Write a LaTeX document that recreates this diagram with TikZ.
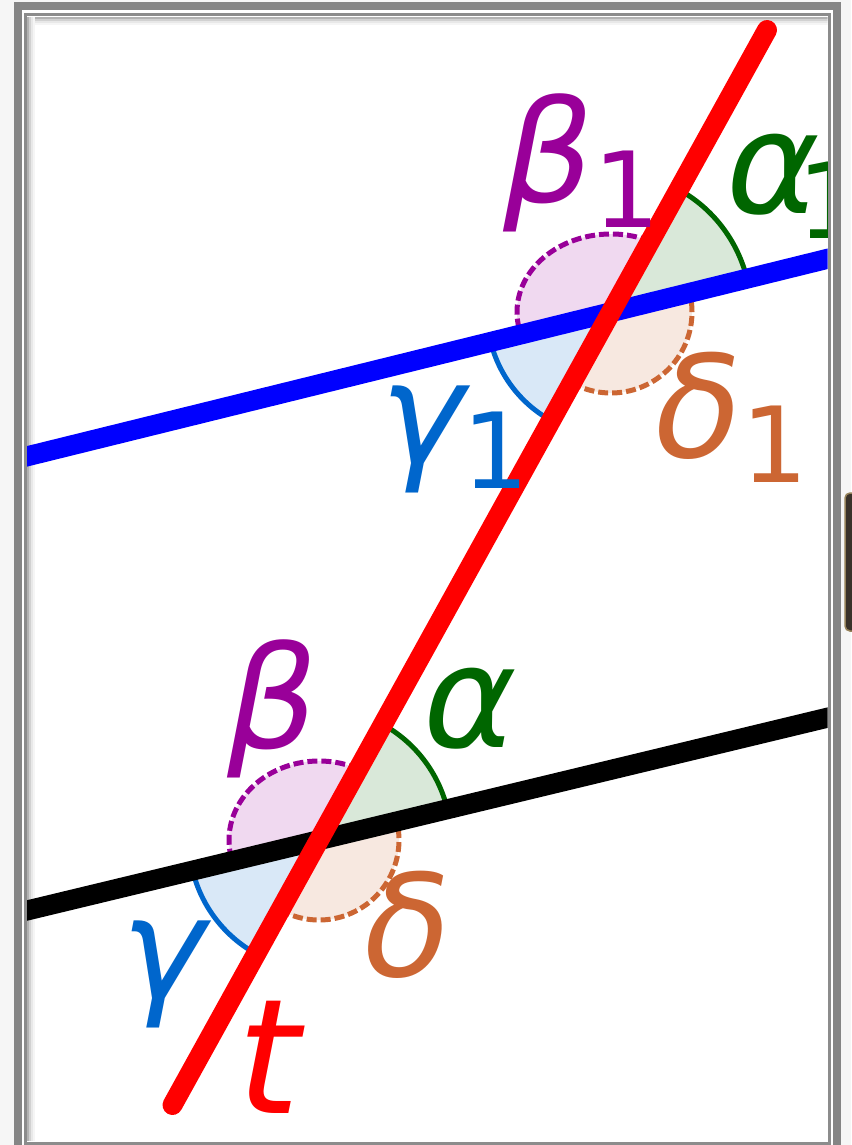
\documentclass[tikz,border=0pt]{standalone}
\usepackage{fontspec}
\setmainfont{DejaVu Sans}
\usetikzlibrary{calc}
\definecolor{cpurple}{HTML}{990099}
\definecolor{cgreen}{HTML}{006600}
\definecolor{cblue}{HTML}{0066CC}
\definecolor{corange}{HTML}{CC6633}
\definecolor{cred}{HTML}{FF0000}
\definecolor{cbline}{HTML}{0000FF}
\definecolor{framegray}{HTML}{858585}
\definecolor{pagebg}{HTML}{F6F6F6}
\newcommand\lblsub[1]{{\fontsize{105}{105}\selectfont\raisebox{-25pt}{#1}}}
\begin{document}
\begin{tikzpicture}[x=1pt,y=-1pt,
  lbl/.style={inner sep=0pt, outer sep=0pt, anchor=base west, font=\fontsize{142}{142}\selectfont},
  mainline/.style={line width=20pt},
  solidarc/.style={line width=5pt},
  dasharc/.style={line width=5pt, dash pattern=on 10pt off 4pt},
  afill/.style={fill=cgreen!15}, bfill/.style={fill=cpurple!15},
  gfill/.style={fill=cblue!15}, dfill/.style={fill=corange!15}]
% page and frame
\fill[pagebg] (0,0) rectangle (851,1145);
\useasboundingbox (0,0) rectangle (851,1145);
\filldraw[fill=white, draw=framegray, line width=8pt] (18,6.5) rectangle (836.5,1165);
\draw[draw=black!45, line width=3pt] (25.5,15) rectangle (829,1143.5);
\node[draw={rgb,255:red,150;green,130;blue,90}, fill={rgb,255:red,58;green,50;blue,42}, line width=1.5pt, rounded corners=5pt,
  minimum width=16pt, minimum height=138pt, inner sep=0pt] (handle) at (853,562) {};
\begin{scope}
\clip (27,17) rectangle (827.5,1141.5);
% inner shadow
\draw[black!30, line width=2pt] (27,18) -- (828,18);
\draw[black!18, line width=2pt] (27,20) -- (828,20);
\draw[black!9, line width=2pt] (27,22) -- (828,22);
\draw[black!4, line width=2pt] (27,24) -- (828,24);
\draw[black!30, line width=2pt] (28,17) -- (28,1141);
\draw[black!18, line width=2pt] (30,17) -- (30,1141);
\draw[black!9, line width=2pt] (32,17) -- (32,1141);
\draw[black!4, line width=2pt] (34,17) -- (34,1141);
% intersection points and line ends
\coordinate (c1) at (611,312);
\coordinate (c2) at (319,840);
\coordinate (bl1) at (0,463);
\coordinate (bl2) at (851,253);
\coordinate (kl1) at (0,917);
\coordinate (kl2) at (851,712);
\coordinate (rt1) at (172.5,1105);
\coordinate (rt2) at (767,30);
% upper sectors
\fill[afill] (c1) -- ++(-13.77:140) arc[start angle=-13.77, end angle=-61.1, radius=140] -- cycle;
\draw[solidarc, cgreen] (c1) ++(-13.77:140) arc[start angle=-13.77, end angle=-61.1, radius=140];
\fill[bfill] (c1) -- ++(-65.4:94 and 78) arc[start angle=-65.4, end angle=-196.45, x radius=94, y radius=78] -- cycle;
\draw[dasharc, cpurple] (c1) ++(-65.4:94 and 78) arc[start angle=-65.4, end angle=-196.45, x radius=94, y radius=78];
\fill[gfill] (c1) -- ++(-193.77:124) arc[start angle=-193.77, end angle=-241.1, radius=124] -- cycle;
\draw[solidarc, cblue] (c1) ++(-193.77:124) arc[start angle=-193.77, end angle=-241.1, radius=124];
\fill[dfill] (c1) -- ++(-241.1:81) arc[start angle=-241.1, end angle=-373.77, radius=81] -- cycle;
\draw[dasharc, corange] (c1) ++(-241.1:81) arc[start angle=-241.1, end angle=-373.77, radius=81];
% lower sectors
\fill[afill] (c2) -- ++(-13.77:132) arc[start angle=-13.77, end angle=-61.1, radius=132] -- cycle;
\draw[solidarc, cgreen] (c2) ++(-13.77:132) arc[start angle=-13.77, end angle=-61.1, radius=132];
\fill[bfill] (c2) -- ++(-64.1:90 and 79) arc[start angle=-64.1, end angle=-195.6, x radius=90, y radius=79] -- cycle;
\draw[dasharc, cpurple] (c2) ++(-64.1:90 and 79) arc[start angle=-64.1, end angle=-195.6, x radius=90, y radius=79];
\fill[gfill] (c2) -- ++(-193.77:130) arc[start angle=-193.77, end angle=-241.1, radius=130] -- cycle;
\draw[solidarc, cblue] (c2) ++(-193.77:130) arc[start angle=-193.77, end angle=-241.1, radius=130];
\fill[dfill] (c2) -- ++(-241.1:80) arc[start angle=-241.1, end angle=-373.77, radius=80] -- cycle;
\draw[dasharc, corange] (c2) ++(-241.1:80) arc[start angle=-241.1, end angle=-373.77, radius=80];
% lines
\draw[mainline, cbline] (bl1) -- (bl2);
\draw[mainline, black] (kl1) -- (kl2);
\draw[mainline, cred, line cap=round] (rt1) -- (rt2);
% labels
\node[lbl, text=cpurple] (b1) at (503,202) {\textit{β}\lblsub{1}};
\node[lbl, text=cgreen] (a1) at (726,213) {\textit{α}\kern-22pt\lblsub{1}};
\node[lbl, text=cblue] (g1) at (380,463) {\textit{γ}\kern-8pt\lblsub{1}};
\node[lbl, text=corange] (d1) at (655,457) {\textit{δ}\lblsub{1}};
\node[lbl, text=cpurple] (b) at (227,748) {\textit{β}};
\node[lbl, text=cgreen] (a) at (423,747) {\textit{α}};
\node[lbl, text=cblue] (g) at (121,998) {\textit{γ}};
\node[lbl, text=corange] (d) at (364,976) {\textit{δ}};
\node[lbl, text=cred, font=\fontsize{160}{160}\selectfont] (t) at (237,1113) {\textit{t}};
\end{scope}
\end{tikzpicture}
\end{document}
